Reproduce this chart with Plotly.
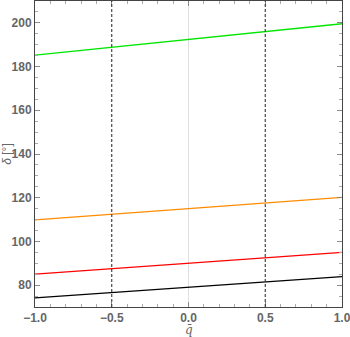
import plotly.graph_objects as go

q = [-1.0, 0.0, 1.0]
delta_green = [185.2, 192.4, 199.6]
delta_orange = [109.9, 115.1, 120.2]
delta_red = [85.0, 90.0, 95.0]
delta_black = [74.2, 79.1, 83.9]
vlines = [-0.5, 0.5]
x_ticks = [-1.0, -0.5, 0.0, 0.5, 1.0]
x_labels = ["−1.0", "−0.5", "0.0", "0.5", "1.0"]
y_ticks = [80, 100, 120, 140, 160, 180, 200]

fig = go.Figure()
for ys, col in [(delta_black, "#000000"), (delta_red, "#ff0000"),
                (delta_orange, "#ff8c00"), (delta_green, "#00e600")]:
    fig.add_trace(go.Scatter(x=q, y=ys, mode="lines",
                             line=dict(color=col, width=1.3), showlegend=False))
for v in vlines:
    fig.add_vline(x=v, line=dict(color="#333333", width=1.1, dash="3px,2px"))

tickfont = dict(family="Liberation Sans", size=12, color="#666666", weight="bold")
fig.update_xaxes(range=[-1, 1], tickvals=x_ticks, ticktext=x_labels,
                 showgrid=False, zeroline=True, zerolinecolor="#e0e0e0", zerolinewidth=1,
                 showline=True, linecolor="#444444", linewidth=1, mirror="allticks",
                 ticks="inside", ticklen=5, tickcolor="#888888",
                 minor=dict(dtick=0.1, ticks="inside", ticklen=3, tickcolor="#aaaaaa"),
                 tickfont=tickfont, automargin=False, ticklabeloverflow="allow")
fig.update_yaxes(range=[70, 210], tickvals=y_ticks,
                 showgrid=False, zeroline=False,
                 showline=True, linecolor="#444444", linewidth=1, mirror="allticks",
                 ticks="inside", ticklen=5, tickcolor="#888888",
                 minor=dict(dtick=5, ticks="inside", ticklen=3, tickcolor="#aaaaaa"),
                 tickfont=tickfont, automargin=False, ticklabeloverflow="allow",
                 title=dict(text="<i>δ</i> [°]", font=dict(family="Liberation Sans", size=12, color="#666666"), standoff=4))
fig.add_annotation(text="<i>q\u0304</i>", xref="paper", yref="paper", x=0.5, y=-0.074,
                   xanchor="center", yanchor="middle", showarrow=False, borderpad=0,
                   font=dict(family="DejaVu Serif", size=12, color="#666666"))
fig.update_layout(width=350, height=337, margin=dict(l=35, r=8, t=1, b=30),
                  plot_bgcolor="white", paper_bgcolor="white")
fig.write_html("out.html", config={"displayModeBar": False},
               post_script="document.body.style.margin='0';")
